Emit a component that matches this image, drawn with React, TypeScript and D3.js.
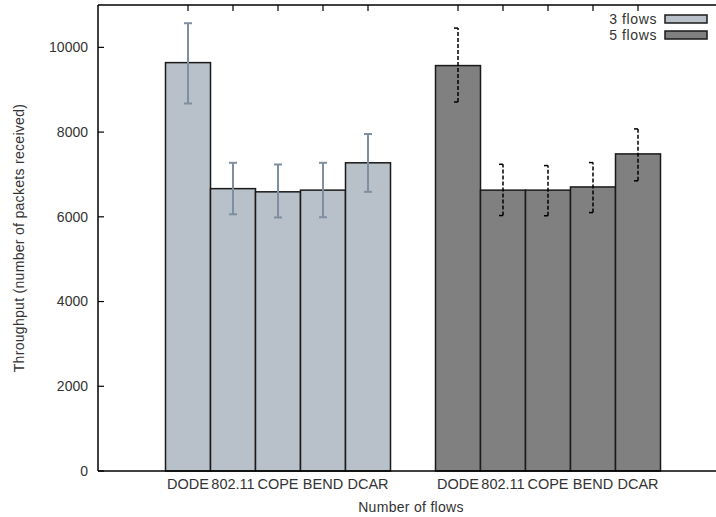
import React from 'react';
import * as d3 from 'd3';

const methods = ['DODE', '802.11', 'COPE', 'BEND', 'DCAR'];
const groups = ['3 flows', '5 flows'];
const means3 = [9640, 6665, 6590, 6630, 7275];
const lows3 = [8675, 6060, 5985, 5990, 6590];
const highs3 = [10570, 7275, 7235, 7275, 7955];
const means5 = [9570, 6630, 6630, 6705, 7485];
const lows5 = [8710, 6030, 6025, 6100, 6850];
const highs5 = [10455, 7240, 7210, 7280, 8075];
const yTicks = [0, 2000, 4000, 6000, 8000, 10000];

const fills = ['#b8c0c9', '#808080'];
const font = '"Liberation Sans", Arial, sans-serif';

const App = () => {
    const width = 716;
    const height = 517;
    const left = 98;
    const top = 5;
    const bottom = 471;

    // gnuplot style histogram: bar i of group g sits at g*6 + i
    const x = d3.scaleLinear().domain([-2, 12]).range([left, left + 14 * 45]);
    const y = d3.scaleLinear().domain([0, 11000]).range([bottom, top]);

    const series = [
        { means: means3, lows: lows3, highs: highs3 },
        { means: means5, lows: lows5, highs: highs5 },
    ];
    const bw = x(0.5) - x(-0.5);

    return (
        <svg width={width} height={height} style={{ position: 'absolute', left: 0, top: 0 }}>
            <rect width={width} height={height} fill="#fff" />
            {series.map((s, g) =>
                s.means.map((v, i) => {
                    const cx = x(g * 6 + i);
                    return (
                        <rect key={`b${g}${i}`} x={cx - bw / 2} y={y(v)} width={bw} height={y(0) - y(v)}
                            fill={fills[g]} stroke="#1a1a1a" strokeWidth={1.5} />
                    );
                })
            )}
            {series[0].means.map((v, i) => {
                const cx = x(i);
                return (
                    <g key={`e0${i}`} stroke="#7f8fa0" strokeWidth={2}>
                        <line x1={cx} x2={cx} y1={y(lows3[i])} y2={y(highs3[i])} />
                        <line x1={cx - 4} x2={cx + 4} y1={y(lows3[i])} y2={y(lows3[i])} />
                        <line x1={cx - 4} x2={cx + 4} y1={y(highs3[i])} y2={y(highs3[i])} />
                    </g>
                );
            })}
            {series[1].means.map((v, i) => {
                const cx = x(6 + i);
                return (
                    <g key={`e1${i}`} stroke="#000" strokeWidth={1.5}>
                        <line x1={cx} x2={cx} y1={y(lows5[i])} y2={y(highs5[i])} strokeDasharray="4,2" />
                        <line x1={cx - 4} x2={cx} y1={y(lows5[i])} y2={y(lows5[i])} />
                        <line x1={cx - 4} x2={cx} y1={y(highs5[i])} y2={y(highs5[i])} />
                    </g>
                );
            })}
            {/* axes frame */}
            <line x1={left} x2={width} y1={top} y2={top} stroke="#000" strokeWidth={1.5} />
            <line x1={left} x2={width} y1={bottom} y2={bottom} stroke="#000" strokeWidth={1.5} />
            <line x1={left} x2={left} y1={top} y2={bottom} stroke="#000" strokeWidth={1.5} />
            {yTicks.map(t => (
                <g key={t}>
                    <line x1={left} x2={left + 6} y1={y(t)} y2={y(t)} stroke="#000" strokeWidth={1.2} />
                    <text x={left - 10} y={y(t)} dy="0.35em" textAnchor="end" fontFamily={font} fontSize={14} fill="#333">{t}</text>
                </g>
            ))}
            {groups.map((_, g) =>
                methods.map((m, i) => {
                    const cx = x(g * 6 + i);
                    return (
                        <g key={`t${g}${i}`}>
                            <line x1={cx} x2={cx} y1={top} y2={top + 6} stroke="#000" strokeWidth={1.2} />
                            <text x={cx} y={489} textAnchor="middle" fontFamily={font} fontSize={14.5} fill="#333">{m}</text>
                        </g>
                    );
                })
            )}
            <text x={411} y={512} textAnchor="middle" fontFamily={font} fontSize={14} letterSpacing={0.3} fill="#333">Number of flows</text>
            <text transform={`translate(24,238) rotate(-90)`} textAnchor="middle" fontFamily={font} fontSize={14} letterSpacing={0.3} fill="#333">
                Throughput (number of packets received)
            </text>
            {/* legend */}
            {groups.map((gname, g) => (
                <g key={gname} transform={`translate(0,${g * 16})`}>
                    <text x={657} y={19} dy="0.35em" textAnchor="end" fontFamily={font} fontSize={14} letterSpacing={0.6} fill="#333">{gname}</text>
                    <rect x={665} y={15} width={42} height={8} fill={fills[g]} stroke="#1a1a1a" strokeWidth={1.5} />
                </g>
            ))}
        </svg>
    );
};

export default App;
